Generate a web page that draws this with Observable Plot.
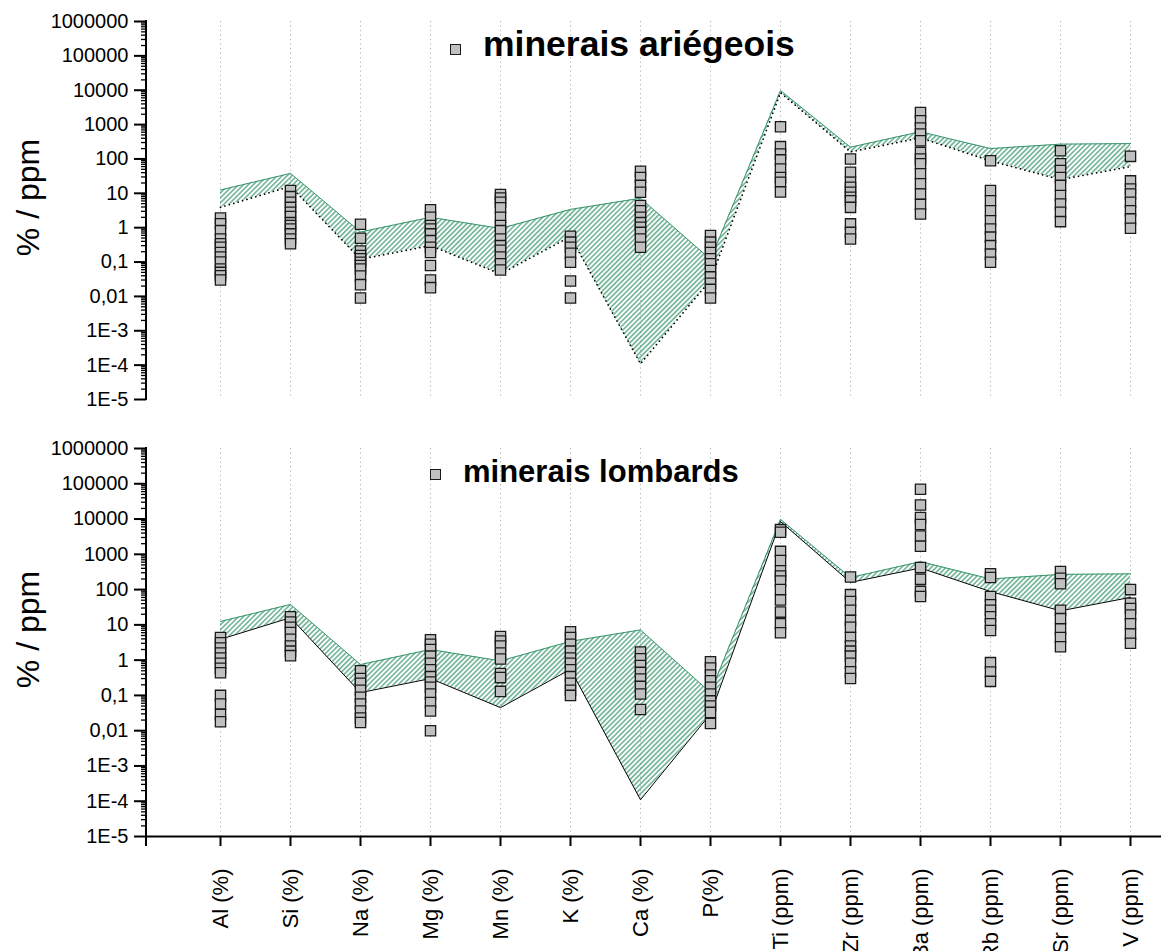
<!DOCTYPE html>
<html><head><meta charset="utf-8">
<script src="https://cdn.jsdelivr.net/npm/d3@7"></script>
<script src="https://cdn.jsdelivr.net/npm/@observablehq/plot@0.6"></script>
<style>
body{margin:0;background:#fff;font-family:"Liberation Sans",Arial,sans-serif}
#wrap{position:relative;width:1161px;height:951px;overflow:hidden;background:#fff}
.panel{position:absolute;left:0}
.lg{position:absolute;font-weight:bold;color:#000;white-space:nowrap}
.sq{position:absolute;width:9px;height:9px;background:#c0c0c0;border:1.3px solid #1a1a1a}
</style></head><body><div id="wrap"></div>
<script>
const categories = ["Al (%)","Si (%)","Na (%)","Mg (%)","Mn (%)","K (%)","Ca (%)","P(%)","Ti (ppm)","Zr (ppm)","Ba (ppm)","Rb (ppm)","Sr (ppm)","V (ppm)"];
const bandUpper = [12.5, 38, 0.75, 2.0, 0.95, 3.4, 7.2, 0.12, 9800, 220, 620, 200, 270, 280];
const bandLower = [3.9, 16, 0.12, 0.3, 0.045, 0.55, 1.1e-4, 0.03, 8500, 160, 410, 88, 25, 60];
const yTicks = [1e-5,1e-4,1e-3,1e-2,1e-1,1,10,100,1000,1e4,1e5,1e6];
const yTickLabels = ["1E-5","1E-4","1E-3","0,01","0,1","1","10","100","1000","10000","100000","1000000"];
const yLabel = "% / ppm";
const legendTop = "minerais ariégeois";
const legendBottom = "minerais lombards";

// minerais ariégeois (top panel)
const arAl = [1.9, 1.3, 0.82, 0.47, 0.34, 0.27, 0.19, 0.14, 0.1, 0.063, 0.05, 0.04, 0.03];
const arSi = [12, 8, 5.5, 3.9, 2.8, 2.1, 1.4, 1.15, 0.92, 0.66, 0.47, 0.34];
const arNa = [1.26, 0.49, 0.21, 0.155, 0.124, 0.099, 0.079, 0.063, 0.039, 0.022, 0.009];
const arMg = [3.3, 2.0, 1.15, 0.92, 0.66, 0.42, 0.27, 0.19, 0.079, 0.03, 0.018];
const arMn = [9.2, 7.3, 5.5, 3.8, 2.0, 1.15, 0.82, 0.47, 0.3, 0.22, 0.14, 0.089, 0.059];
const arK  = [0.56, 0.38, 0.27, 0.18, 0.099, 0.028, 0.009];
const arCa = [44, 29, 17, 10.7, 4.4, 3.1, 2.0, 1.4, 1.03, 0.73, 0.47, 0.27];
const arP  = [0.59, 0.38, 0.27, 0.19, 0.124, 0.089, 0.057, 0.037, 0.024, 0.016, 0.009];
const arTi = [870, 228, 140, 94, 51, 29, 21, 11];
const arZr = [100, 41, 21, 15, 10.7, 7.7, 6.1, 3.9, 1.29, 0.73, 0.47];
const arBa = [2260, 1300, 795, 533, 340, 155, 100, 72, 37, 19, 9.6, 4.7, 2.5];
const arRb = [89, 12, 6.1, 3.1, 1.6, 0.92, 0.53, 0.3, 0.17, 0.099];
const arSr = [174, 72, 46, 29, 17, 8.6, 4.9, 2.8, 1.5];
const arV  = [119, 23, 13.4, 9.6, 5.5, 3.1, 1.8, 0.96];

// minerais lombards (bottom panel)
const loAl = [4.4, 3.1, 2.2, 1.6, 1.15, 0.82, 0.59, 0.44, 0.1, 0.057, 0.029, 0.018];
const loSi = [17, 12, 8.6, 6.1, 3.9, 2.5, 1.8, 1.34];
const loNa = [0.5, 0.30, 0.22, 0.14, 0.089, 0.057, 0.036, 0.023, 0.017];
const loMg = [3.8, 2.8, 2.0, 1.3, 0.82, 0.53, 0.34, 0.24, 0.17, 0.11, 0.063, 0.036, 0.01];
const loMn = [4.7, 3.5, 2.5, 1.6, 1.08, 0.42, 0.32, 0.13];
const loK  = [6.4, 4.4, 2.8, 1.8, 1.15, 0.82, 0.53, 0.34, 0.22, 0.14, 0.1];
const loCa = [1.7, 1.1, 0.7, 0.45, 0.29, 0.18, 0.11, 0.04];
const loP  = [0.9, 0.6, 0.38, 0.26, 0.17, 0.11, 0.07, 0.05, 0.033, 0.016];
const loTi = [5000, 4200, 1210, 665, 340, 244, 174, 100, 51, 23, 10.7, 6];
const loZr = [228, 72, 46, 26, 13.4, 8.6, 4.4, 2.5, 1.8, 1.3, 0.82, 0.47, 0.3];
const loBa = [70000, 25000, 11000, 7000, 3300, 1700, 420, 195, 89, 64];
const loRb = [280, 220, 64, 37, 26, 17, 10.7, 6.9, 0.85, 0.46, 0.25];
const loSr = [325, 209, 146, 26, 15, 7.7, 4.4, 2.4];
const loV  = [100, 41, 29, 19, 10.7, 5.5, 3];

const arSeries = [arAl, arSi, arNa, arMg, arMn, arK, arCa, arP, arTi, arZr, arBa, arRb, arSr, arV];
const loSeries = [loAl, loSi, loNa, loMg, loMn, loK, loCa, loP, loTi, loZr, loBa, loRb, loSr, loV];

const toRows = series => series.flatMap((vals, i) => vals.map(v => ({cat: categories[i], v})));
const band = categories.map((c, i) => ({cat: c, hi: bandUpper[i], lo: bandLower[i]}));
const minorTicks = [];
for (let e = -5; e < 6; e++) for (let k = 2; k < 10; k++) minorTicks.push(k * Math.pow(10, e));
const labelFor = v => yTickLabels[yTicks.findIndex(t => Math.abs(Math.log10(t) - Math.log10(v)) < 1e-6)];

const GREEN = "#36956a";
const svgns = "http://www.w3.org/2000/svg";

function panel(points, dotted, withX, height, marginBottom, patId) {
  const axisLine = (index, scales, values, dim) => {
    const l = document.createElementNS(svgns, "line");
    l.setAttribute("x1", dim.marginLeft); l.setAttribute("x2", dim.marginLeft);
    l.setAttribute("y1", dim.marginTop - 1);
    l.setAttribute("y2", dim.height - dim.marginBottom + (withX ? 10 : 1));
    l.setAttribute("stroke", "#000"); l.setAttribute("stroke-width", 2);
    return l;
  };
  const marks = [
    Plot.gridX(categories, {stroke: "#b0b0b0", strokeOpacity: 1, strokeWidth: 1, strokeDasharray: "1.2,3.3"}),
    Plot.areaY(band, {x: "cat", y1: "lo", y2: "hi", fill: `url(#${patId})`}),
    Plot.lineY(band, {x: "cat", y: "hi", stroke: GREEN, strokeWidth: 1}),
    Plot.lineY(band, {x: "cat", y: "lo", stroke: "#000", strokeWidth: dotted ? 1.7 : 1,
      strokeDasharray: dotted ? "0.1,4.5" : null, strokeLinecap: "round"}),
    Plot.dot(points, {x: "cat", y: "v", symbol: "square", r: 5.8, fill: "#c0c0c0", stroke: "#1a1a1a", strokeWidth: 1.3}),
    Plot.axisY(minorTicks, {tickSize: 5, tickFormat: () => "", strokeWidth: 1.3, label: null}),
    Plot.axisY(yTicks, {tickSize: 12, tickFormat: labelFor, fontSize: 20, tickPadding: 6, strokeWidth: 2, label: null}),
    Plot.text([yLabel], {text: d => d, frameAnchor: "left", textAnchor: "middle", rotate: -90, dx: -118, dy: -13, fontSize: 32}),
    axisLine
  ];
  if (withX) {
    marks.push(Plot.ruleY([1e-5], {stroke: "#000", strokeWidth: 2}));
    marks.push(Plot.axisX(categories, {tickSize: 10, tickRotate: -90, fontSize: 22, tickPadding: 22, strokeWidth: 2, label: null}));
  }
  const svg = Plot.plot({
    width: 1161, height, marginLeft: 146, marginRight: 0, marginTop: 21, marginBottom,
    style: {fontFamily: "'Liberation Sans', Arial, sans-serif", background: "transparent", overflow: "visible", color: "#000"},
    x: {type: "point", domain: categories, range: [216, 1134], padding: 0, axis: null},
    y: {type: "log", domain: [1e-5, 1e6], axis: null, label: null},
    marks
  });
  const defs = d3.select(svg).insert("defs", ":first-child");
  const pat = defs.append("pattern").attr("id", patId).attr("patternUnits", "userSpaceOnUse")
    .attr("width", 3.5).attr("height", 3.5).attr("patternTransform", "rotate(45)");
  pat.append("line").attr("x1", 1.75).attr("x2", 1.75).attr("y1", -1).attr("y2", 5)
    .attr("stroke", GREEN).attr("stroke-width", 1.15);
  return svg;
}

const wrap = document.getElementById("wrap");
const topPanel = panel(toRows(arSeries), true, false, 430, 31, "hatchA");
topPanel.classList.add("panel"); topPanel.style.top = "0px";
wrap.appendChild(topPanel);
const botPanel = panel(toRows(loSeries), false, true, 524, 115, "hatchB");
botPanel.classList.add("panel"); botPanel.style.top = "427px";
wrap.appendChild(botPanel);

function legend(text, size, sqLeft, sqTop, txtLeft, txtTop) {
  const s = document.createElement("div"); s.className = "sq";
  s.style.left = sqLeft + "px"; s.style.top = sqTop + "px"; wrap.appendChild(s);
  const t = document.createElement("div"); t.className = "lg"; t.textContent = text;
  t.style.fontSize = size + "px"; t.style.lineHeight = (size + 1) + "px";
  t.style.left = txtLeft + "px"; t.style.top = txtTop + "px"; wrap.appendChild(t);
}
legend(legendTop, 35.5, 450, 44, 483, 26);
legend(legendBottom, 31, 430, 469, 463, 456);
</script></body></html>
